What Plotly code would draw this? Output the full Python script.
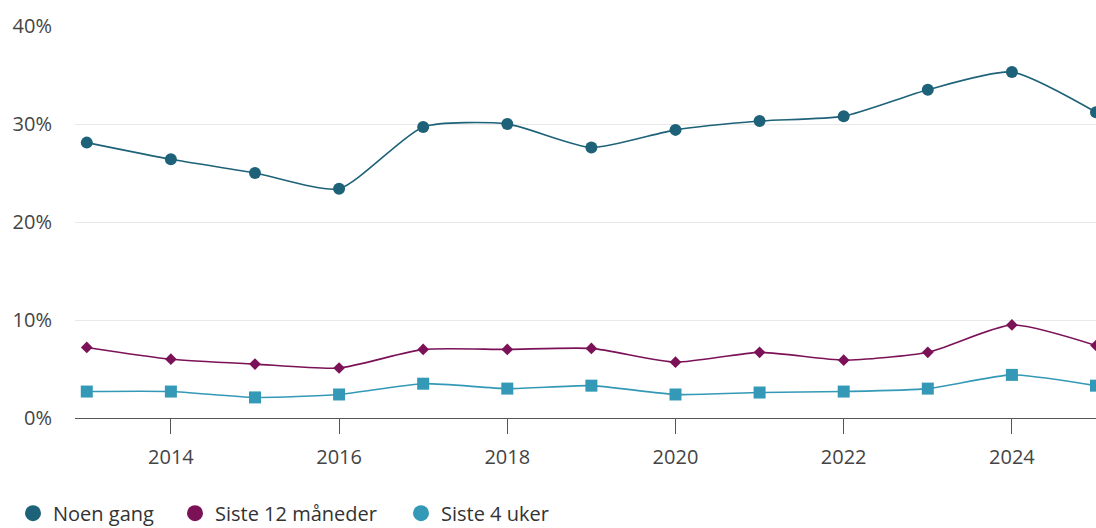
import plotly.graph_objects as go

# Survey years and shares (%) for each recall period
years = [2013, 2014, 2015, 2016, 2017, 2018, 2019, 2020, 2021, 2022, 2023, 2024, 2025]
noen_gang = [28.1, 26.4, 25.0, 23.4, 29.7, 30.0, 27.6, 29.4, 30.3, 30.8, 33.5, 35.3, 31.2]
siste_12_mnd = [7.2, 6.0, 5.5, 5.1, 7.0, 7.0, 7.1, 5.7, 6.7, 5.9, 6.7, 9.5, 7.4]
siste_4_uker = [2.7, 2.7, 2.1, 2.4, 3.5, 3.0, 3.3, 2.4, 2.6, 2.7, 3.0, 4.4, 3.3]

series = [
    ("Noen gang", noen_gang, "#1d6278", "circle", 12),
    ("Siste 12 måneder", siste_12_mnd, "#7b1258", "diamond", 9),
    ("Siste 4 uker", siste_4_uker, "#3399b7", "square", 12),
]

# One legend per entry so each can sit at its own horizontal position
legend_ids = ["legend", "legend2", "legend3"]
legend_x = [13, 175, 401]

font_family = "Open Sans, Noto Sans, sans-serif"
fig = go.Figure()

for name, values, color, symbol, size in series:
    fig.add_trace(go.Scatter(
        x=years, y=values, name=name, mode="lines+markers",
        line=dict(color=color, width=1.6, shape="spline", smoothing=0.6),
        marker=dict(color=color, symbol=symbol, size=size),
        showlegend=False,
        hovertemplate="%{x}: %{y:.1f}%<extra>" + name + "</extra>",
    ))

# Legend entries use round markers for every series
for (name, values, color, symbol, size), lid in zip(series, legend_ids):
    fig.add_trace(go.Scatter(
        x=[None], y=[None], name=name, mode="markers",
        marker=dict(color=color, symbol="circle", size=18),
        showlegend=True, legend=lid,
    ))

legend_style = dict(
    orientation="h", xref="container", yref="container",
    y=0.028, xanchor="left", yanchor="middle",
    font=dict(size=20, color="#333333"),
    itemsizing="trace", bgcolor="rgba(0,0,0,0)",
)

fig.update_layout(
    width=1096, height=528,
    margin=dict(l=75, r=0, t=26, b=110),
    paper_bgcolor="white", plot_bgcolor="white",
    font=dict(family=font_family, color="#444444", size=20),
    xaxis=dict(
        range=[2012.86, 2025.0],
        tick0=2014, dtick=2,
        showgrid=False, zeroline=False,
        showline=True, linecolor="#555555", linewidth=1,
        ticks="outside", ticklen=15, tickcolor="#555555", tickwidth=1,
        tickfont=dict(size=20, color="#444444"),
        ticklabelstandoff=6,
    ),
    yaxis=dict(
        range=[0, 40], dtick=10, ticksuffix="%",
        showgrid=True, gridcolor="#e8e8e8", gridwidth=1,
        zeroline=False, showline=False,
        tickfont=dict(size=20, color="#444444"),
        ticklabelstandoff=22,
    ),
    legend=dict(x=legend_x[0] / 1096, **legend_style),
    legend2=dict(x=legend_x[1] / 1096, **legend_style),
    legend3=dict(x=legend_x[2] / 1096, **legend_style),
)

fig.write_html("out.html")
